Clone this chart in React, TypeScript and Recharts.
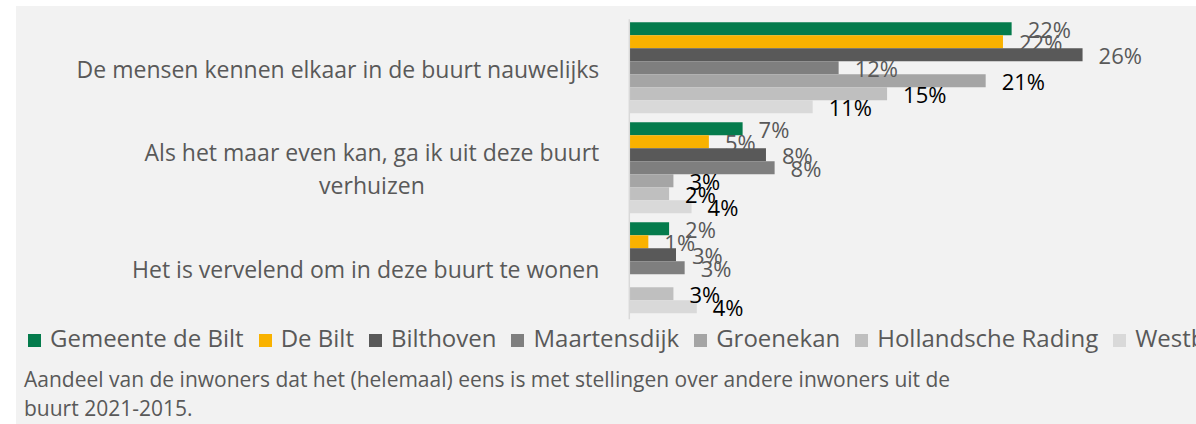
import React from "react";
import { BarChart, Bar, XAxis, YAxis, Legend, LabelList } from "recharts";

const categories = [
  "De mensen kennen elkaar in de buurt nauwelijks",
  "Als het maar even kan, ga ik uit deze buurt verhuizen",
  "Het is vervelend om in deze buurt te wonen",
];

const seriesNames = [
  "Gemeente de Bilt",
  "De Bilt",
  "Bilthoven",
  "Maartensdijk",
  "Groenekan",
  "Hollandsche Rading",
  "Westbroek",
];

const gemeenteDeBilt = [22.1, 6.55, 2.3];
const deBilt = [21.6, 4.6, 1.1];
const bilthoven = [26.2, 7.9, 2.7];
const maartensdijk = [12.1, 8.4, 3.2];
const groenekan = [20.6, 2.55, null];
const hollandscheRading = [14.9, 2.3, 2.55];
const westbroek = [10.6, 3.6, 3.9];

const seriesValues = [
  gemeenteDeBilt,
  deBilt,
  bilthoven,
  maartensdijk,
  groenekan,
  hollandscheRading,
  westbroek,
];

const barColors = ["#047b4c", "#f9b200", "#595959", "#7f7f7f", "#a5a5a5", "#bfbfbf", "#d9d9d9"];
const labelColors = ["#595959", "#595959", "#595959", "#595959", "#000000", "#000000", "#000000"];

const FONT = '"Open Sans", sans-serif';
const TEXT = "#595959";

const data = categories.map((name, i) => {
  const row: Record<string, string | number | null> = { name };
  seriesNames.forEach((s, j) => {
    row[s] = seriesValues[j][i];
  });
  return row;
});

let measureCtx: CanvasRenderingContext2D | null = null;
const measure = (text: string, size: number) => {
  if (!measureCtx) measureCtx = document.createElement("canvas").getContext("2d");
  if (!measureCtx) return text.length * size * 0.5;
  measureCtx.font = `${size}px "Open Sans"`;
  return measureCtx.measureText(text).width;
};

const wrap = (text: string, maxChars: number) => {
  const lines: string[] = [];
  let cur = "";
  text.split(" ").forEach((w) => {
    const next = cur ? cur + " " + w : w;
    if (next.length > maxChars && cur) {
      lines.push(cur);
      cur = w;
    } else cur = next;
  });
  if (cur) lines.push(cur);
  return lines;
};

const CategoryTick = (props: any) => {
  const { x, y, payload } = props;
  const size = 23;
  const lines = wrap(String(payload.value), 46);
  const blockW = Math.max(...lines.map((l) => measure(l, size)));
  const cx = x - 28 - blockW / 2;
  const lh = 33;
  return (
    <g>
      {lines.map((l, i) => (
        <text
          key={i}
          x={cx}
          y={y + 8.5 + (i - (lines.length - 1) / 2) * lh}
          textAnchor="middle"
          fontSize={size}
          fontFamily={FONT}
          fill={TEXT}
        >
          {l}
        </text>
      ))}
    </g>
  );
};

const makeLabel = (color: string) => (props: any) => {
  const { x, y, width, height, value } = props;
  if (value == null) return null;
  return (
    <text
      x={x + width + 16}
      y={y + height / 2}
      dominantBaseline="central"
      fontSize={22}
      fontFamily={FONT}
      fill={color}
    >
      {`${Math.round(Number(value))}%`}
    </text>
  );
};

const LegendRow = () => (
  <div
    style={{
      display: "flex",
      whiteSpace: "nowrap",
      fontFamily: FONT,
      fontSize: 24,
      color: TEXT,
      alignItems: "center",
    }}
  >
    {seriesNames.map((s, i) => (
      <span key={s} style={{ display: "inline-flex", alignItems: "center", marginRight: 15 }}>
        <span
          style={{
            display: "inline-block",
            width: 13,
            height: 13,
            background: barColors[i],
            marginRight: 9,
            position: "relative",
            top: 2.5,
          }}
        />
        {s}
      </span>
    ))}
  </div>
);

export default function App() {
  return (
    <div
      style={{
        position: "absolute",
        left: 0,
        top: 0,
        width: 1196,
        height: 424,
        overflow: "hidden",
        background: "#ffffff",
      }}
    >
      <div
        style={{
          position: "absolute",
          left: 16,
          top: 6,
          width: 1180,
          height: 418,
          background: "#f2f2f2",
          overflow: "hidden",
        }}
      >
        <BarChart
          width={1180}
          height={418}
          data={data}
          layout="vertical"
          barCategoryGap={3}
          barGap={0}
          margin={{ top: 13.3, right: 47.7, bottom: 104.7, left: 0 }}
        >
          <XAxis type="number" domain={[0, 30]} hide />
          <YAxis
            type="category"
            dataKey="name"
            width={613.3}
            axisLine={{ stroke: "#d9d9d9", strokeWidth: 1.5 }}
            tickLine={false}
            tickSize={0}
            tick={<CategoryTick />}
            interval={0}
          />
          <Legend
            layout="horizontal"
            verticalAlign="middle"
            align="center"
            wrapperStyle={{ left: 12, top: 315, width: 1400, height: 33 }}
            content={() => <LegendRow />}
          />
          {seriesNames.map((s, i) => (
            <Bar key={s} dataKey={s} fill={barColors[i]} isAnimationActive={false}>
              <LabelList dataKey={s} content={makeLabel(labelColors[i])} />
            </Bar>
          ))}
        </BarChart>
        <div
          style={{
            position: "absolute",
            left: 8,
            top: 359,
            width: 955,
            fontFamily: FONT,
            fontSize: 21,
            lineHeight: "29px",
            color: TEXT,
          }}
        >
          Aandeel van de inwoners dat het (helemaal) eens is met stellingen over andere inwoners uit de buurt 2021-2015.
        </div>
      </div>
    </div>
  );
}
